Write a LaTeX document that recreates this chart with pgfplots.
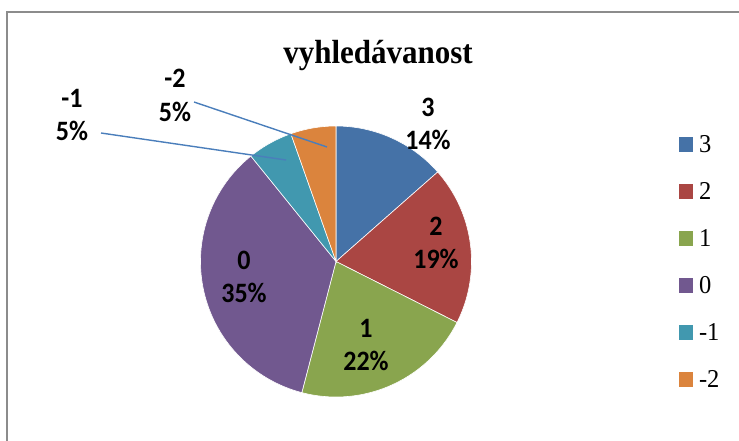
\documentclass[border=0pt]{standalone}
\usepackage{fontspec}
\setmainfont{Liberation Serif}
\newfontfamily\calibri{Carlito}
\usepackage{graphicx}
\usepackage{pgfplots}
\pgfplotsset{compat=1.18}
\definecolor{c3}{HTML}{4572A7}
\definecolor{c2}{HTML}{AA4643}
\definecolor{c1}{HTML}{89A54E}
\definecolor{c0}{HTML}{71588F}
\definecolor{cm1}{HTML}{4198AF}
\definecolor{cm2}{HTML}{DB843D}
\definecolor{leader}{HTML}{4A7EBB}
\definecolor{frame}{HTML}{8C8C8C}
% total number of answers
\def\pietotal{37}
% #1 cumulative count before slice, #2 count, #3 colour, #4 legend text
\newcommand{\pieslice}[4]{%
  \pgfmathsetmacro\pa{90-360*(#1+#2)/\pietotal}%
  \pgfmathsetmacro\pb{90-360*(#1)/\pietotal}%
  \addplot[fill=#3, draw=white, line width=0.6bp, domain=\pa:\pb, samples=90]
    ({336+135.5*cos(x)},{261.5-135.5*sin(x)}) -- (axis cs:336,261.5) -- cycle;
  \addlegendentry{\scalebox{1}[1.05]{#4}}
}
\newcommand{\lbl}[3]{\node[anchor=base, inner sep=0pt,
  font=\calibri\bfseries\fontsize{26bp}{28bp}\selectfont] at (axis cs:#1,#2) {\scalebox{1}[1.08]{#3}};}
\begin{document}
\begin{tikzpicture}
\begin{axis}[
  scale only axis, width=739bp, height=441bp,
  xmin=0, xmax=739, ymin=0, ymax=441, y dir=reverse,
  hide axis, clip=false,
  legend cell align=left,
  legend image code/.code={\path[#1, draw=none] (0bp,-7.5bp) rectangle (14bp,7.5bp);},
  legend style={at={(axis cs:678.5,120.5)}, anchor=north west,
    draw=none, fill=none, inner sep=0pt, outer sep=0pt,
    row sep=0pt, column sep=6.5bp,
    font=\fontsize{24.5bp}{26bp}\selectfont,
    nodes={inner sep=0pt, outer sep=0pt, text height=31.5bp, text depth=15.5bp}},
]
\coordinate (BL) at (axis cs:0,441);
\coordinate (TR) at (axis cs:739,0);
\draw[frame, line width=2bp] (axis cs:739,12) -- (axis cs:7,12) -- (axis cs:7,441);
\pieslice{0}{5}{c3}{3}
\pieslice{5}{7}{c2}{2}
\pieslice{12}{8}{c1}{1}
\pieslice{20}{13}{c0}{0}
\pieslice{33}{2}{cm1}{-1}
\pieslice{35}{2}{cm2}{-2}
\node[anchor=base, inner sep=0pt, font=\bfseries\fontsize{31bp}{34bp}\selectfont]
  at (axis cs:378,64) {\scalebox{1}[1.08]{vyhledávanost}};
\draw[leader, line width=1.4bp] (axis cs:194,102) -- (axis cs:327,147);
\draw[leader, line width=1.4bp] (axis cs:101,133) -- (axis cs:286,160);
\lbl{428}{116}{3}
\lbl{428}{149}{14\%}
\lbl{436}{235}{2}
\lbl{436}{268}{19\%}
\lbl{366}{337}{1}
\lbl{366}{370}{22\%}
\lbl{244}{269}{0}
\lbl{244}{302}{35\%}
\lbl{72}{107}{-1}
\lbl{72}{140}{5\%}
\lbl{175}{88}{-2}
\lbl{175}{121}{5\%}
\end{axis}
\pgfresetboundingbox
\path[use as bounding box] (BL) rectangle (TR);
\end{tikzpicture}
\end{document}
